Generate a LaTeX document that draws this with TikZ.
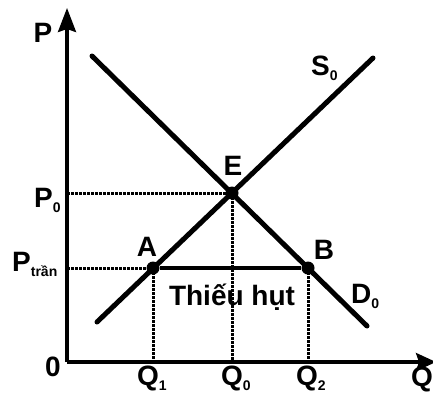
\documentclass[tikz,border=0pt]{standalone}
\usepackage{fontspec}
\setmainfont{Liberation Sans}
\usetikzlibrary{arrows.meta}
\begin{document}
\begin{tikzpicture}[x=1pt,y=-1pt,
  lbl/.style={font=\bfseries\fontsize{28}{30}\selectfont, inner sep=0pt},
  curve/.style={line width=5pt, line cap=round},
  axis/.style={line width=3.2pt},
  guide/.style={line width=3pt, dash pattern=on 2.6pt off 1.4pt},
  pt/.style={circle, fill=black, minimum size=13pt, inner sep=0pt}]
\useasboundingbox (0,0) rectangle (433,394);
\newcommand{\sub}[1]{\raisebox{-0.35ex}{\fontsize{14}{15}\selectfont #1}}
% points
\coordinate (O) at (67,362);
\coordinate (Ytop) at (67,8);
\coordinate (Xend) at (436,362);
\coordinate (Dst) at (92,56);
\coordinate (Den) at (367,326);
\coordinate (Sst) at (97,322);
\coordinate (Sen) at (373,58);
\coordinate (P0) at (67,193);
\coordinate (Pt) at (67,268);
\coordinate (Q1) at (153,362);
\coordinate (Q0) at (232,362);
\coordinate (Q2) at (308,362);
% guides
\draw[guide] (P0) -- (232,193);
\draw[guide] (Pt) -- (153,268);
\draw[guide] (153,268) -- (Q1);
\draw[guide] (232,193) -- (Q0);
\draw[guide] (308,268) -- (Q2);
% curves
\draw[curve] (Dst) -- (Den);
\draw[curve] (Sst) -- (Sen);
% axes
\draw[axis, -{Stealth[length=24pt,width=18pt,inset=3pt]}] (O) -- (Ytop);
\draw[axis, -{Stealth[length=20pt,width=18pt,inset=3pt]}] (O) -- (Xend);
% points
\node[pt] (E) at (232,193) {};
\node[pt] (A) at (153,268) {};
\node[pt] (B) at (308,268) {};
\draw[line width=4.5pt] (A) -- (B);
% labels
\node[lbl] (lP) at (43,33) {P};
\node[lbl] (l0) at (53,367) {0};
\node[lbl, anchor=base west] (lP0) at (34,207) {P\sub{0}};
\node[lbl, anchor=base west] (lPt) at (12,271) {P\sub{trần}};
\node[lbl] (lE) at (233,166) {E};
\node[lbl] (lA) at (147,247) {A};
\node[lbl] (lB) at (324,250) {B};
\node[lbl, anchor=base west] (lS) at (311,75) {S\sub{0}};
\node[lbl, anchor=base west] (lD) at (351,303) {D\sub{0}};
\node[lbl, anchor=base] (lT) at (232,305) {Thiếu hụt};
\node[lbl, anchor=base west] (lQ1) at (137,385) {Q\sub{1}};
\node[lbl, anchor=base west] (lQ0) at (221,385) {Q\sub{0}};
\node[lbl, anchor=base west] (lQ2) at (296,385) {Q\sub{2}};
\node[lbl, anchor=base east] (lQ) at (433,386) {Q};
\end{tikzpicture}
\end{document}
